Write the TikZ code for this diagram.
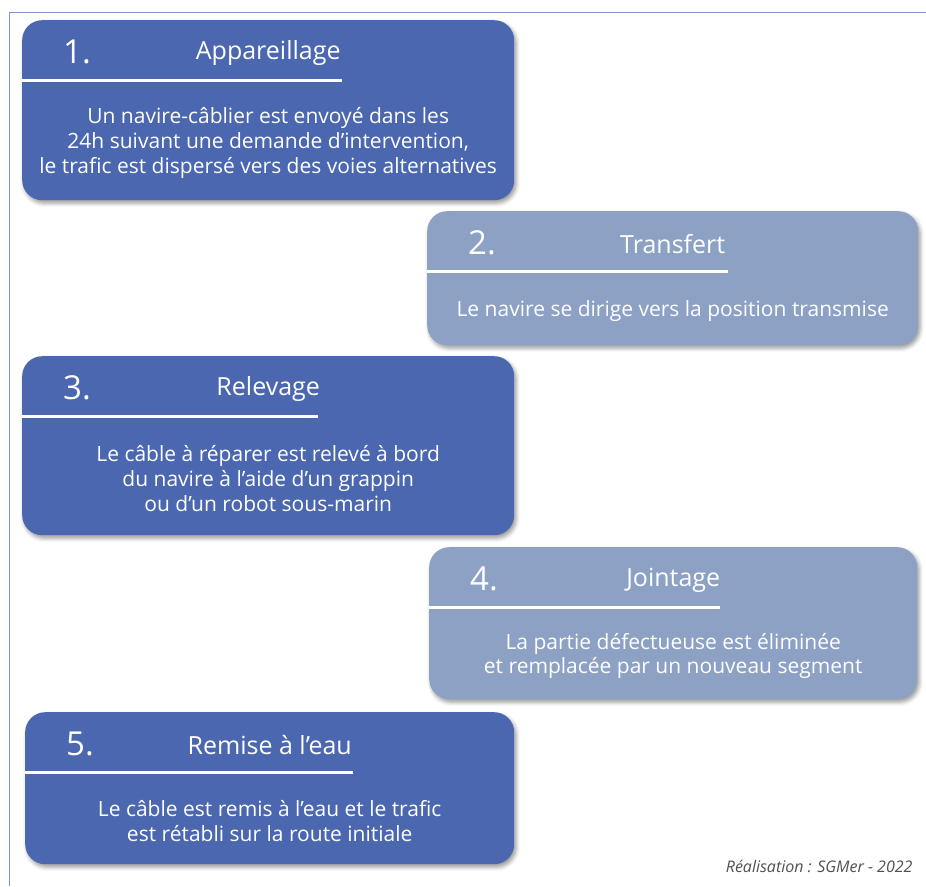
\documentclass[tikz,border=0pt]{standalone}
\usepackage{fontspec}
\setmainfont{Open Sans}[Ligatures=NoCommon]
\usetikzlibrary{calc,shadows.blur}

\definecolor{bleufonce}{HTML}{4A67B0}
\definecolor{bleuclair}{HTML}{8CA1C4}
\definecolor{gristexte}{HTML}{505050}

\tikzset{
  etape/.style={rounded corners=20pt, inner sep=0pt, anchor=north west,
    blur shadow={shadow xshift=2pt, shadow yshift=-3pt, shadow blur radius=4pt, shadow opacity=40}},
  trait/.style={white, line width=3pt},
  numero/.style={text=white, font=\fontsize{33}{38}\selectfont},
  titre/.style={text=white, font=\fontsize{25}{28}\selectfont},
  corps/.style={text=white, align=center, font=\fontsize{21}{24.7}\selectfont},
  pied/.style={text=gristexte, font=\fontsize{16}{18}\selectfont\itshape},
  cadre/.style={bleufonce!70, line width=0.8pt}
}

\begin{document}
\begin{tikzpicture}[x=1pt, y=-1pt]
  \useasboundingbox (0,0) rectangle (926,886);
  \draw[cadre] (9,886) -- (9,12) -- (926,12);
  % les cinq etapes
  \foreach \n/\x/\y/\h/\w/\col/\lw/\titre/\texte in {
      1/22/20/180/492/bleufonce/320/Appareillage/{Un navire-câblier est envoyé dans les\\24h suivant une demande d’intervention,\\le trafic est dispersé vers des voies alternatives},
      2/427/211/134/491/bleuclair/301/Transfert/{Le navire se dirige vers la position transmise},
      3/22/356/179/492/bleufonce/296/Relevage/{Le câble à réparer est relevé à bord\\du navire à l’aide d’un grappin\\ou d’un robot sous-marin},
      4/429/547/152/488/bleuclair/291/Jointage/{La partie défectueuse est éliminée\\et remplacée par un nouveau segment},
      5/25/712/152/489/bleufonce/328/Remise à l’eau/{Le câble est remis à l’eau et le trafic\\est rétabli sur la route initiale}}{
    \node[etape, fill=\col, minimum width=\w, minimum height=\h] (e\n) at (\x,\y) {};
    \draw[trait] ($(e\n.north west)+(0,60)$) -- ++(\lw,0);
    \node[numero] (num\n) at ($(e\n.north west)+(55,32)$) {\n.};
    \node[titre] (tit\n) at ($(e\n.north)+(0,33)$) {\titre};
    \node[corps] (txt\n) at ($(e\n.north)+(0,{33+\h/2})$) {\texte};
  }
  \node[pied, anchor=base east] (credit) at (916,872) {Réalisation : SGMer - 2022};
\end{tikzpicture}
\end{document}
